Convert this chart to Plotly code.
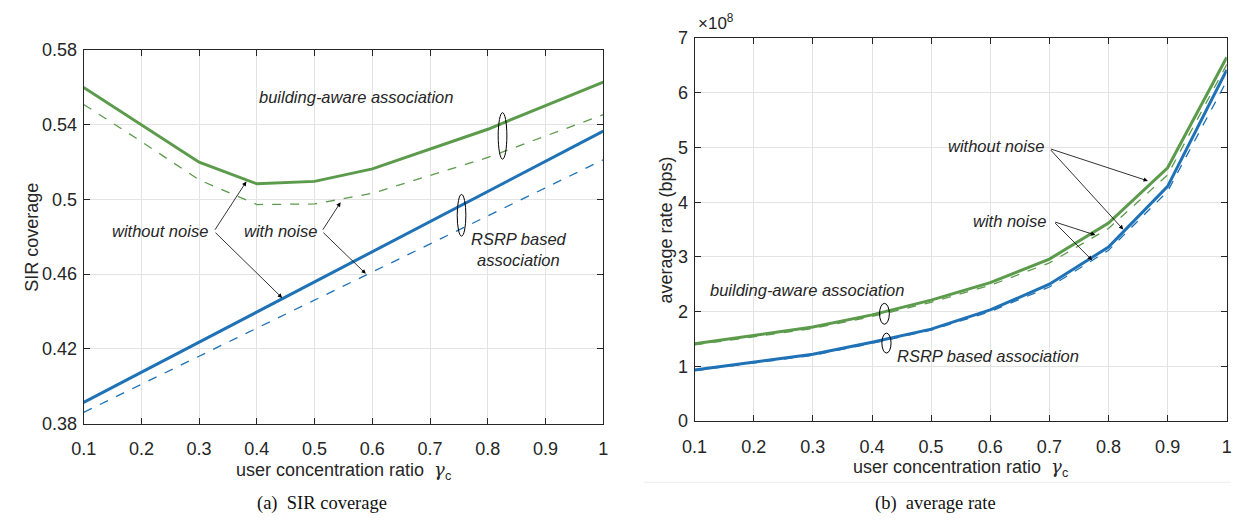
import plotly.graph_objects as go

W, H = 1236, 523

# ---------------- data ----------------
gamma_c = [0.1, 0.2, 0.3, 0.4, 0.5, 0.6, 0.7, 0.8, 0.9, 1.0]
x_ticks = [0.1, 0.2, 0.3, 0.4, 0.5, 0.6, 0.7, 0.8, 0.9, 1.0]
x_tick_labels = ["0.1", "0.2", "0.3", "0.4", "0.5", "0.6", "0.7", "0.8", "0.9", "1"]

# (a) SIR coverage
sir_ba_no_noise = [0.560, 0.540, 0.520, 0.5084, 0.5097, 0.5164, 0.5268, 0.5376, 0.5503, 0.5629]
sir_ba_noise = [0.5509, 0.531, 0.5105, 0.4973, 0.4976, 0.5033, 0.5129, 0.5225, 0.534, 0.5454]
sir_rsrp_no_noise = [0.3913, 0.4074, 0.4236, 0.4397, 0.4559, 0.4720, 0.4882, 0.5043, 0.5205, 0.5366]
sir_rsrp_noise = [0.386, 0.401, 0.416, 0.431, 0.446, 0.4612, 0.4763, 0.4913, 0.5063, 0.5213]
sir_ticks = [0.38, 0.42, 0.46, 0.50, 0.54, 0.58]
sir_tick_labels = ["0.38", "0.42", "0.46", "0.5", "0.54", "0.58"]

# (b) average rate, in units of 1e8 bps
rate_ba_no_noise = [1.41, 1.565, 1.72, 1.94, 2.21, 2.53, 2.96, 3.62, 4.63, 6.65]
rate_ba_noise = [1.39, 1.54, 1.69, 1.91, 2.17, 2.48, 2.89, 3.52, 4.50, 6.52]
rate_rsrp_no_noise = [0.93, 1.07, 1.22, 1.44, 1.68, 2.03, 2.50, 3.18, 4.29, 6.42]
rate_rsrp_noise = [0.92, 1.055, 1.20, 1.42, 1.66, 2.00, 2.45, 3.12, 4.20, 6.22]
rate_ticks = [0, 1, 2, 3, 4, 5, 6, 7]
rate_tick_labels = ["0", "1", "2", "3", "4", "5", "6", "7"]

GREEN = "#5b9b4b"
BLUE = "#1f72b6"
AX = "#262626"
GRID = "#e3e3e3"
SANS = "Liberation Sans, Arial, sans-serif"
SERIF = "Liberation Serif, Times New Roman, serif"


def px_x(p):
    return p / W


def px_y(p):
    return 1 - p / H


fig = go.Figure()

# left panel traces
for ys, col, dash, w in [
    (sir_ba_noise, GREEN, "dash", 1.3),
    (sir_rsrp_noise, BLUE, "dash", 1.3),
    (sir_ba_no_noise, GREEN, "solid", 3),
    (sir_rsrp_no_noise, BLUE, "solid", 3),
]:
    fig.add_trace(go.Scatter(x=gamma_c, y=ys, mode="lines", xaxis="x", yaxis="y",
                             line=dict(color=col, width=w, dash="dash" if dash == "dash" else None),
                             showlegend=False, hoverinfo="skip"))

# right panel traces
for ys, col, dash, w in [
    (rate_ba_noise, GREEN, "dash", 1.3),
    (rate_rsrp_noise, BLUE, "dash", 1.3),
    (rate_ba_no_noise, GREEN, "solid", 3),
    (rate_rsrp_no_noise, BLUE, "solid", 3),
]:
    fig.add_trace(go.Scatter(x=gamma_c, y=ys, mode="lines", xaxis="x2", yaxis="y2",
                             line=dict(color=col, width=w, dash="dash" if dash == "dash" else None),
                             showlegend=False, hoverinfo="skip"))

axis_common = dict(showline=True, linecolor=AX, linewidth=1, mirror="allticks",
                   ticks="inside", ticklen=6, tickcolor=AX, tickwidth=1,
                   showgrid=True, gridcolor=GRID, gridwidth=1, zeroline=False,
                   tickfont=dict(family=SANS, size=18, color=AX))

fig.update_layout(
    width=W, height=H, margin=dict(l=0, r=0, t=0, b=0),
    paper_bgcolor="white", plot_bgcolor="white", showlegend=False,
    xaxis=dict(domain=[px_x(71.7), px_x(599)], range=[0.1, 1.0], anchor="y",
               tickvals=x_ticks, ticktext=x_tick_labels, ticklabelstandoff=9, **axis_common),
    yaxis=dict(domain=[px_y(430), px_y(41.7)], range=[0.38, 0.58], anchor="x",
               tickvals=sir_ticks, ticktext=sir_tick_labels, ticklabelstandoff=2, **axis_common),
    xaxis2=dict(domain=[px_x(691.7), px_x(1231.7)], range=[0.1, 1.0], anchor="y2",
                tickvals=x_ticks, ticktext=x_tick_labels, ticklabelstandoff=9, **axis_common),
    yaxis2=dict(domain=[px_y(427.3), px_y(29.3)], range=[0, 7], anchor="x2",
                tickvals=rate_ticks, ticktext=rate_tick_labels, ticklabelstandoff=2, **axis_common),
)

ann = []
shapes = []
ITAL = dict(family=SANS, size=16.5, color=AX)


def txt(text, x, y, xref, yref, xanchor="left", yanchor="middle", font=ITAL, angle=0):
    ann.append(dict(text=text, x=x, y=y, xref=xref, yref=yref, xanchor=xanchor,
                    yanchor=yanchor, showarrow=False, font=font, textangle=angle))


def arrow(hx, hy, tx, ty, xr, yr):
    ann.append(dict(text="", x=hx, y=hy, ax=tx, ay=ty, xref=xr, yref=yr, axref=xr, ayref=yr,
                    showarrow=True, arrowhead=2, arrowsize=1.1, arrowwidth=0.8,
                    arrowcolor="black", standoff=0, startstandoff=0))


def ellipse(x0, x1, y0, y1, xr, yr):
    shapes.append(dict(type="circle", xref=xr, yref=yr, x0=x0, x1=x1, y0=y0, y1=y1,
                       line=dict(color="black", width=1)))


# ----- left panel annotations -----
txt("<i>building-aware association</i>", 0.401, 0.5548, "x", "y")
ellipse(0.818, 0.833, 0.5216, 0.5465, "x", "y")
ellipse(0.747, 0.762, 0.4804, 0.5027, "x", "y")
txt("<i>RSRP based<br>association</i>", 0.767, 0.4734, "x", "y")
txt("<i>without noise</i>", 0.319, 0.483, "x", "y", xanchor="right")
txt("<i>with noise</i>", 0.508, 0.483, "x", "y", xanchor="right")
arrow(0.3818, 0.5096, 0.3258, 0.483, "x", "y")
arrow(0.4438, 0.4473, 0.3258, 0.483, "x", "y")
arrow(0.545, 0.4985, 0.5126, 0.483, "x", "y")
arrow(0.5888, 0.4602, 0.5126, 0.483, "x", "y")

# ----- right panel annotations -----
txt("<i>without noise</i>", 0.6943, 5.023, "x2", "y2", xanchor="right")
txt("<i>with noise</i>", 0.6972, 3.663, "x2", "y2", xanchor="right")
arrow(0.8667, 4.39, 0.70, 4.982, "x2", "y2")
arrow(0.825, 3.50, 0.70, 4.982, "x2", "y2")
arrow(0.7777, 3.40, 0.7072, 3.646, "x2", "y2")
arrow(0.7722, 2.94, 0.7072, 3.646, "x2", "y2")
txt("<i>building-aware association</i>", 0.1222, 2.40, "x2", "y2")
ellipse(0.4127, 0.4293, 1.769, 2.151, "x2", "y2")
ellipse(0.4167, 0.4322, 1.242, 1.606, "x2", "y2")
txt("<i>RSRP based association</i>", 0.4385, 1.18, "x2", "y2")

# exponent label
txt("×10<sup>8</sup>", px_x(693), px_y(26), "paper", "paper", yanchor="bottom",
    font=dict(family=SANS, size=17, color=AX))

# axis titles
TF = dict(family=SANS, size=18, color=AX)
gam = "user concentration ratio  <span style='font-family:DejaVu Serif'><i>γ</i></span><sub>c</sub>"
txt(gam, px_x(335), px_y(479), "paper", "paper", xanchor="center", font=TF)
txt(gam, px_x(961), px_y(476), "paper", "paper", xanchor="center", font=TF)
txt("SIR coverage", px_x(19), px_y(236), "paper", "paper", xanchor="center", font=TF, angle=-90)
txt("average rate (bps)", px_x(663), px_y(229), "paper", "paper", xanchor="center", font=TF, angle=-90)

# captions
CF = dict(family=SERIF, size=18.5, color="#111111")
txt("(a)  SIR coverage", px_x(314), px_y(513), "paper", "paper", xanchor="center", font=CF)
txt("(b)  average rate", px_x(936), px_y(513), "paper", "paper", xanchor="center", font=CF)

# faint separator line under right panel
shapes.append(dict(type="line", xref="paper", yref="paper", x0=px_x(640), x1=1.0,
                   y0=px_y(491), y1=px_y(491), line=dict(color="#ececec", width=1)))

fig.update_layout(annotations=ann, shapes=shapes)
fig.write_html("out.html")
